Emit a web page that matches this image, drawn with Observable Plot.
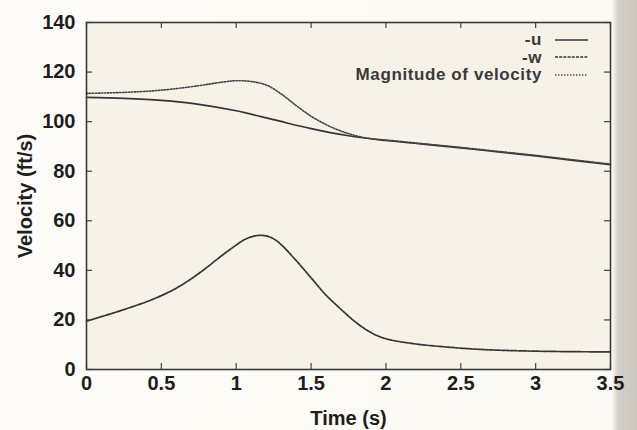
<!DOCTYPE html>
<html>
<head>
<meta charset="utf-8">
<script src="https://cdn.jsdelivr.net/npm/d3@7"></script>
<script src="https://cdn.jsdelivr.net/npm/@observablehq/plot@0.6"></script>
<style>
  html, body { margin: 0; padding: 0; }
  body {
    width: 637px; height: 430px; overflow: hidden;
    background: linear-gradient(to right, #fdfcf8 0px, #fbf9f3 612px, #d6d1c8 618px, #cbc6bd 637px);
    font-family: "Liberation Sans", Arial, sans-serif;
  }
  #wrap { position: relative; width: 637px; height: 430px; }
  #legend { position: absolute; right: 49px; top: 31px; color: #3a3a3a; font-size: 17px; font-weight: bold; letter-spacing: 0.6px; }
  .row { display: flex; align-items: center; justify-content: flex-end; height: 17.5px; line-height: 17.5px; }
  .row svg { margin-left: 13px; }
</style>
</head>
<body>
<div id="wrap">
  <div id="chart"></div>
  <div id="legend"></div>
</div>
<script>
// ---- data ----
const xTicks = [0, 0.5, 1, 1.5, 2, 2.5, 3, 3.5];
const yTicks = [0, 20, 40, 60, 80, 100, 120, 140];
const seriesNames = ["-u", "-w", "Magnitude of velocity"];

const uTime = [0, 0.25, 0.5, 0.75, 1.0, 1.25, 1.5, 1.75, 2.0, 2.25, 2.5, 2.75, 3.0, 3.25, 3.5];
const uVal  = [109.8, 109.4, 108.6, 107.0, 104.4, 100.8, 97.2, 94.3, 92.4, 90.9, 89.4, 87.8, 86.2, 84.4, 82.6];

const wTime = [0, 0.2, 0.4, 0.5, 0.6, 0.7, 0.8, 0.9, 1.0, 1.05, 1.1, 1.15, 1.2, 1.25, 1.3, 1.4, 1.5, 1.6, 1.7, 1.8, 1.9, 2.0, 2.2, 2.4, 2.6, 2.8, 3.0, 3.25, 3.5];
const wVal  = [19.5, 23.2, 27.3, 29.8, 32.8, 36.6, 41.0, 45.8, 50.2, 52.2, 53.5, 54.1, 53.9, 52.7, 50.4, 44.0, 37.0, 30.0, 24.3, 19.0, 14.9, 12.4, 10.3, 9.1, 8.2, 7.7, 7.4, 7.2, 7.1];

const magTime = [0, 0.25, 0.5, 0.75, 0.9, 1.0, 1.1, 1.2, 1.3, 1.4, 1.5, 1.6, 1.7, 1.8, 1.9, 2.0, 2.25, 2.5, 2.75, 3.0, 3.25, 3.5];
const magVal  = [111.4, 111.8, 112.7, 114.5, 115.9, 116.5, 116.2, 114.8, 111.2, 106.5, 102.2, 98.8, 96.2, 94.3, 93.1, 92.6, 91.1, 89.6, 88.0, 86.4, 84.6, 82.9];

// ---- build tables ----
const uData = uTime.map((t, i) => ({t, v: uVal[i]}));
const wData = wTime.map((t, i) => ({t, v: wVal[i]}));
const mData = magTime.map((t, i) => ({t, v: magVal[i]}));

const ink = "#353535";
const styles = [
  {stroke: ink, strokeWidth: 1.7, strokeDasharray: null},
  {stroke: ink, strokeWidth: 1.7, strokeDasharray: "3,1.2"},
  {stroke: "#444", strokeWidth: 1.6, strokeDasharray: "1.4,1.6"}
];

const chart = Plot.plot({
  width: 637,
  height: 430,
  marginLeft: 86,
  marginRight: 27,
  marginTop: 22,
  marginBottom: 61,
  x: {domain: [0, 3.5]},
  y: {domain: [0, 140]},
  style: {
    background: "transparent",
    fontFamily: "'Liberation Sans', Arial, sans-serif",
    fontSize: "20px",
    fontWeight: "bold",
    color: "#1e1e1e",
    overflow: "visible"
  },
  marks: [
    Plot.frame({fill: "#f6f2e7", stroke: null}),
    Plot.line(uData, {x: "t", y: "v", curve: "catmull-rom", ...styles[0]}),
    Plot.line(wData, {x: "t", y: "v", curve: "catmull-rom", ...styles[1]}),
    Plot.line(mData, {x: "t", y: "v", curve: "catmull-rom", ...styles[2]}),
    // inward ticks on all four sides
    Plot.tickX(xTicks, {x: d => d, insetTop: 341, stroke: "#444", strokeWidth: 1.2}),
    Plot.tickX(xTicks, {x: d => d, insetBottom: 341, stroke: "#444", strokeWidth: 1.2}),
    Plot.tickY(yTicks, {y: d => d, insetRight: 518, stroke: "#444", strokeWidth: 1.2}),
    Plot.tickY(yTicks, {y: d => d, insetLeft: 518, stroke: "#444", strokeWidth: 1.2}),
    Plot.frame({stroke: "#3a3a3a", strokeWidth: 1.6}),
    Plot.axisX(xTicks, {
      tickSize: 0, tickPadding: 6, tickFormat: d => String(d),
      label: "Time (s)", labelAnchor: "center", labelOffset: 55, labelArrow: "none"
    }),
    Plot.axisY(yTicks, {
      tickSize: 0, tickPadding: 11, tickFormat: d => String(d),
      label: "Velocity (ft/s)", labelAnchor: "center", labelOffset: 69, labelArrow: "none"
    })
  ]
});
document.getElementById("chart").appendChild(chart);

// ---- legend (HTML overlay, top right inside the frame) ----
const legend = document.getElementById("legend");
seriesNames.forEach((name, i) => {
  const row = document.createElement("div");
  row.className = "row";
  const label = document.createElement("span");
  label.textContent = name;
  row.appendChild(label);
  const s = styles[i];
  const svg = d3.create("svg").attr("width", 33).attr("height", 6);
  svg.append("line")
    .attr("x1", 0).attr("x2", 33).attr("y1", 3).attr("y2", 3)
    .attr("stroke", s.stroke).attr("stroke-width", s.strokeWidth)
    .attr("stroke-dasharray", s.strokeDasharray);
  row.appendChild(svg.node());
  legend.appendChild(row);
});
</script>
</body>
</html>
